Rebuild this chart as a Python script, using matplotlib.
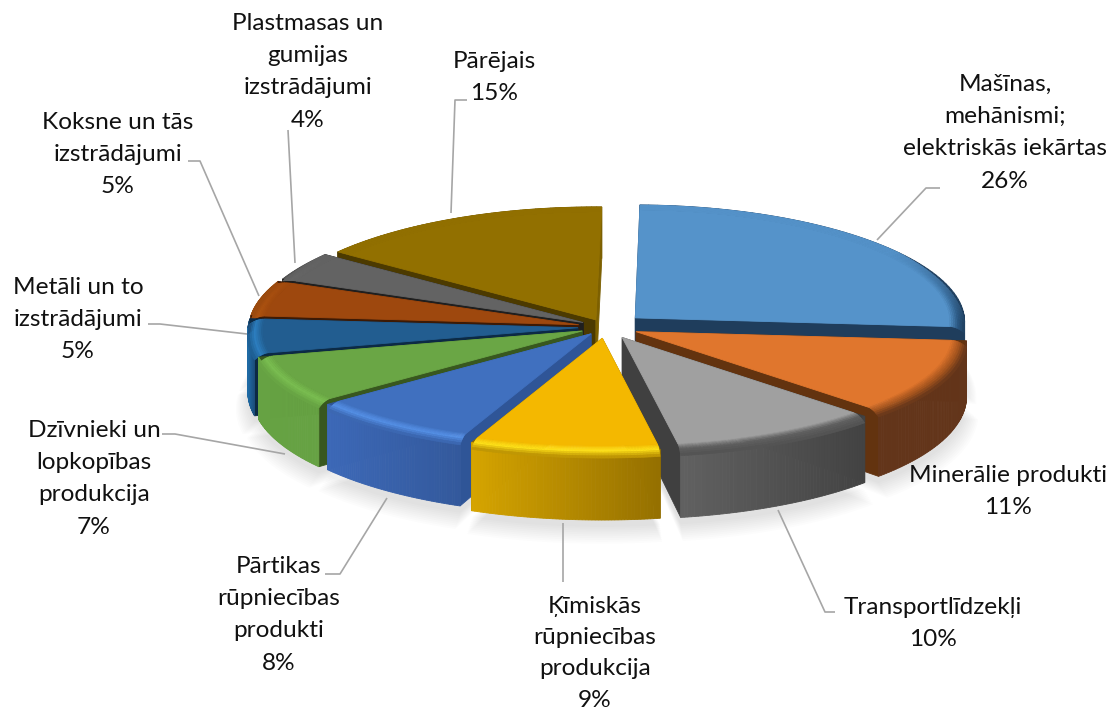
#!/usr/bin/env python3
import numpy as np
import matplotlib
matplotlib.use("Agg")
import matplotlib.pyplot as plt
from matplotlib.patches import Polygon

plt.rcParams["font.family"] = ["Lato", "DejaVu Sans"]

LABELS = [
    "Mašīnas,\nmehānismi;\nelektriskās iekārtas",
    "Minerālie produkti",
    "Transportlīdzekļi",
    "Ķīmiskās\nrūpniecības\nprodukcija",
    "Pārtikas\nrūpniecības\nprodukti",
    "Dzīvnieki un\nlopkopības\nprodukcija",
    "Metāli un to\nizstrādājumi",
    "Koksne un tās\nizstrādājumi",
    "Plastmasas un\ngumijas\nizstrādājumi",
    "Pārējais",
]
VALUES = [26, 11, 10, 9, 8, 7, 5, 5, 4, 15]

# slice styling, same order as VALUES
EXPLODE = [0.12, 0.10, 0.105, 0.10, 0.075, 0.08, 0.085, 0.085, 0.08, 0.07]
TOP = ["#5593ca", "#e0762d", "#a0a0a0", "#f4b800", "#4070bf", "#6aa645",
       "#225d90", "#9e480e", "#636363", "#927000"]
BEVEL = ["#2c5a85", "#a9571f", "#606060", "#ffe21a", "#5590e6", "#7cc052",
         "#2d7fc0", "#b05510", "#6a6a6a", "#8a6a00"]
SIDE_L = ["#1f3f5f", "#63351a", "#616161", "#d6a500", "#3d69b8", "#66a243",
          "#1f6ba5", "#9a4a0d", "#555555", "#6e5400"]
SIDE_R = ["#1f3f5f", "#63351a", "#434343", "#957000", "#33599c", "#66a243",
          "#1b4d7a", "#9a4a0d", "#555555", "#6e5400"]
CUT_START = ["#1f3d5c", "#63330f", "#404040", "#8a6a00", "#2f5597", "#38571f",
             "#0c2a45", "#3d1a05", "#1f1f1f", "#4c3a00"]
CUT_END = ["#1f3d5c", "#63330f", "#404040", "#8a6a00", "#2f5597", "#38571f",
           "#0c2a45", "#3d1a05", "#1f1f1f", "#7d6000"]
# back to front
DRAW_ORDER = [9, 0, 8, 7, 6, 5, 1, 4, 2, 3]

# placement of the labels: centre x, baseline y of first line, line step
LABEL_POS = [(1005, 91, 32.2), (1008, 482, 32.2), (933, 614, 32.2), (595, 613, 31.2), (279, 573, 32.2),
             (94, 437, 32.2), (78, 294, 32.2), (118, 129, 32.2), (308, 30, 32.2), (494, 68, 32.2)]
LEADERS = [
    [(877, 240), (926, 188), (940, 188)],
    [(778, 510), (825, 612), (835, 612)],
    [(563, 523), (563, 582)],
    [(387, 498), (340, 574), (325, 574)],
    [(285, 454), (175, 434), (162, 434)],
    [(247, 334), (160, 324), (148, 324)],
    [(259, 296), (200, 161), (188, 161)],
    [(295, 263), (288, 130)],
    [(451, 213), (455, 100), (467, 100)],
]

CX, CY = 606.0, 327.0
RX, RY = 330.0, 113.0
ROTATION = 1.0
BEVEL_IN = 0.955
BEVEL_DROP = 0.10


def project(mid, explode, r, angle, z=0.0):
    gx = explode * np.sin(mid) + r * np.sin(angle)
    gy = explode * np.cos(mid) + r * np.cos(angle)
    height = 60.0 - 8.0 * gy
    return CX + RX * gx * (1 - 0.03 * gy), CY - RY * gy + z * height


def mix(c1, c2, t):
    a = np.array(matplotlib.colors.to_rgb(c1))
    b = np.array(matplotlib.colors.to_rgb(c2))
    return tuple(a + (b - a) * t)


def patch(ax, pts, color, zorder, alpha=None, lw=0.6):
    ax.add_patch(Polygon(pts, closed=True, facecolor=color, edgecolor=color if alpha is None else "none",
                         linewidth=lw if alpha is None else 0, alpha=alpha, zorder=zorder))


def cut_visible(a, p, q):
    dx = p[0] - a[0]
    if abs(dx) < 1e-6:
        dx = 1e-6
    cross = dx * (q[1] - a[1]) - (p[1] - a[1]) * (q[0] - a[0])
    return cross / dx < 0


def draw_slice(ax, i, start, end, z):
    mid = (start + end) / 2
    e = EXPLODE[i]
    angles = np.linspace(start, end, 60)

    def strip(a0, a1, r0, z0, r1, z1):
        return [project(mid, e, r0, a0, z0), project(mid, e, r0, a1, z0),
                project(mid, e, r1, a1, z1), project(mid, e, r1, a0, z1)]

    # back part of the wall first
    for a0, a1 in zip(angles[:-1], angles[1:]):
        if np.cos(a0) >= 0:
            patch(ax, strip(a0, a1, 1, 0, 1, 1), SIDE_R[i], z)

    # cut faces, hidden one first
    apex = project(mid, e, 0, 0)
    faces = []
    for ang, other, color in ((start, end, CUT_START[i]), (end, start, CUT_END[i])):
        p = project(mid, e, 1, ang)
        q = project(mid, e, 1, other)
        faces.append((cut_visible(apex, p, q), ang, color))
    faces.sort(key=lambda item: item[0])
    for _, ang, color in faces:
        patch(ax, [project(mid, e, 0, 0), project(mid, e, 1, ang),
                   project(mid, e, 1, ang, 1), project(mid, e, 0, 0, 1)], color, z)

    # front part of the wall, left to right on screen
    xs = np.array([project(mid, e, 1, a)[0] for a in angles])
    for k in range(len(angles) - 1):
        if np.cos(angles[k]) < 0:
            t = (xs[k] - xs.min()) / max(xs.max() - xs.min(), 1)
            patch(ax, strip(angles[k], angles[k + 1], 1, 0, 1, 1), mix(SIDE_L[i], SIDE_R[i], t), z)

    # top face
    top = [project(mid, e, 0, 0)] + [project(mid, e, BEVEL_IN, a) for a in angles]
    patch(ax, top, TOP[i], z)

    # rounded edge between top and wall, fades out towards the back
    steps = 8
    for s in range(steps):
        t0, t1 = s / steps, (s + 1) / steps
        r0, r1 = BEVEL_IN + (1 - BEVEL_IN) * t0, BEVEL_IN + (1 - BEVEL_IN) * t1
        z0, z1 = BEVEL_DROP * t0 ** 2, BEVEL_DROP * t1 ** 2
        tc = (t0 + t1) / 2
        for a0, a1 in zip(angles[:-1], angles[1:]):
            side = SIDE_R[i] if np.cos(a0) >= 0 else mix(SIDE_L[i], SIDE_R[i], 0.5)
            if tc < 0.55:
                col = mix(TOP[i], BEVEL[i], tc / 0.55)
            else:
                col = mix(BEVEL[i], side, (tc - 0.55) / 0.45)
            fade = np.clip((0.6 - np.cos(a0)) / 0.6, 0, 1)
            patch(ax, strip(a0, a1, r0, z0 * fade, r1, z1 * fade), mix(TOP[i], col, fade), z, lw=0.4)


def main():
    fig = plt.figure(figsize=(11.12, 7.13), dpi=100)
    ax = fig.add_axes([0, 0, 1, 1])
    ax.set_xlim(0, 1112)
    ax.set_ylim(713, 0)
    ax.axis("off")

    total = sum(VALUES)
    edges = np.radians(ROTATION + np.cumsum([0] + VALUES) / total * 360)

    # soft shadow under the pie
    for i in DRAW_ORDER:
        mid = (edges[i] + edges[i + 1]) / 2
        angles = np.linspace(edges[i], edges[i + 1], 40)
        for k in range(10):
            pts = [project(mid, EXPLODE[i], 0, 0, 1.1)]
            pts += [project(mid, EXPLODE[i], 1 + 0.004 * k, a, 1.1 + 0.02 * k) for a in angles]
            patch(ax, pts, "black", 1, alpha=0.012)

    for z, i in enumerate(DRAW_ORDER):
        draw_slice(ax, i, edges[i], edges[i + 1], 5 + z)

    for pts in LEADERS:
        xs, ys = zip(*pts)
        ax.plot(xs, ys, color="#a6a6a6", lw=1.2, zorder=30, solid_capstyle="butt")

    for label, value, (x, y, step) in zip(LABELS, VALUES, LABEL_POS):
        for n, line in enumerate(label.split("\n") + [f"{value}%"]):
            ax.text(x, y + n * step, line, ha="center", va="baseline", fontsize=17.6,
                    color="#111111", zorder=40)

    fig.savefig("out.png", dpi=100)
    plt.close(fig)


if __name__ == "__main__":
    main()
